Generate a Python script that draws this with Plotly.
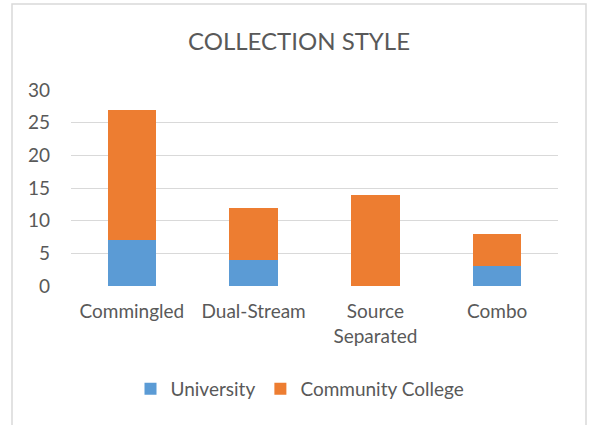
import plotly.graph_objects as go

categories = ["Commingled", "Dual-Stream", "Source<br>Separated", "Combo"]
university = [7, 4, 0, 3]
community_college = [20, 8, 14, 5]
y_ticks = [0, 5, 10, 15, 20, 25, 30]

FONT = "Lato"
TXT = "#595959"

fig = go.Figure()
fig.add_trace(go.Bar(name="University", x=categories, y=university,
                     marker=dict(color="#5B9BD5", line=dict(width=0))))
fig.add_trace(go.Bar(name="Community College", x=categories, y=community_college,
                     marker=dict(color="#ED7D31", line=dict(width=0))))

L, R, T, B = 71, 31, 90, 139
W, H = 589, 425
pw, ph = W - L - R, H - T - B

def px_x(x):
    return (x - L) / pw

def px_y(y):
    return (H - B - y) / ph

fig.update_layout(
    barmode="stack",
    bargap=0.6,
    width=W, height=H,
    margin=dict(l=L, r=R, t=T, b=B, autoexpand=False),
    paper_bgcolor="white", plot_bgcolor="white",
    font=dict(family=FONT, color=TXT, size=19),
    title=dict(text="COLLECTION STYLE", x=299 / W, xref="container", xanchor="center",
               y=1 - 42 / H, yanchor="middle",
               font=dict(family=FONT, size=24, color=TXT)),
    showlegend=True,
    legend=dict(orientation="h", x=px_x(300), xanchor="center", y=px_y(389), yanchor="middle",
                font=dict(family=FONT, size=19, color=TXT), itemsizing="constant",
                traceorder="normal"),
    xaxis=dict(showgrid=False, showline=False, ticks="", ticklabelstandoff=12,
               tickfont=dict(size=19, color=TXT)),
    yaxis=dict(range=[0, 30], tickvals=y_ticks, showgrid=True, gridcolor="#D9D9D9",
               gridwidth=1.3, zeroline=False, showline=False, ticks="",
               ticklabelstandoff=20, tickfont=dict(size=19, color=TXT)),
    shapes=[dict(type="rect", xref="paper", yref="paper",
                 x0=px_x(12), x1=px_x(586), y0=px_y(440), y1=px_y(4),
                 line=dict(color="#D9D9D9", width=1.5), layer="below")],
)

fig.write_html("out.html", config={"displayModeBar": False},
               post_script="document.body.style.margin='0';document.body.style.overflow='hidden';")
